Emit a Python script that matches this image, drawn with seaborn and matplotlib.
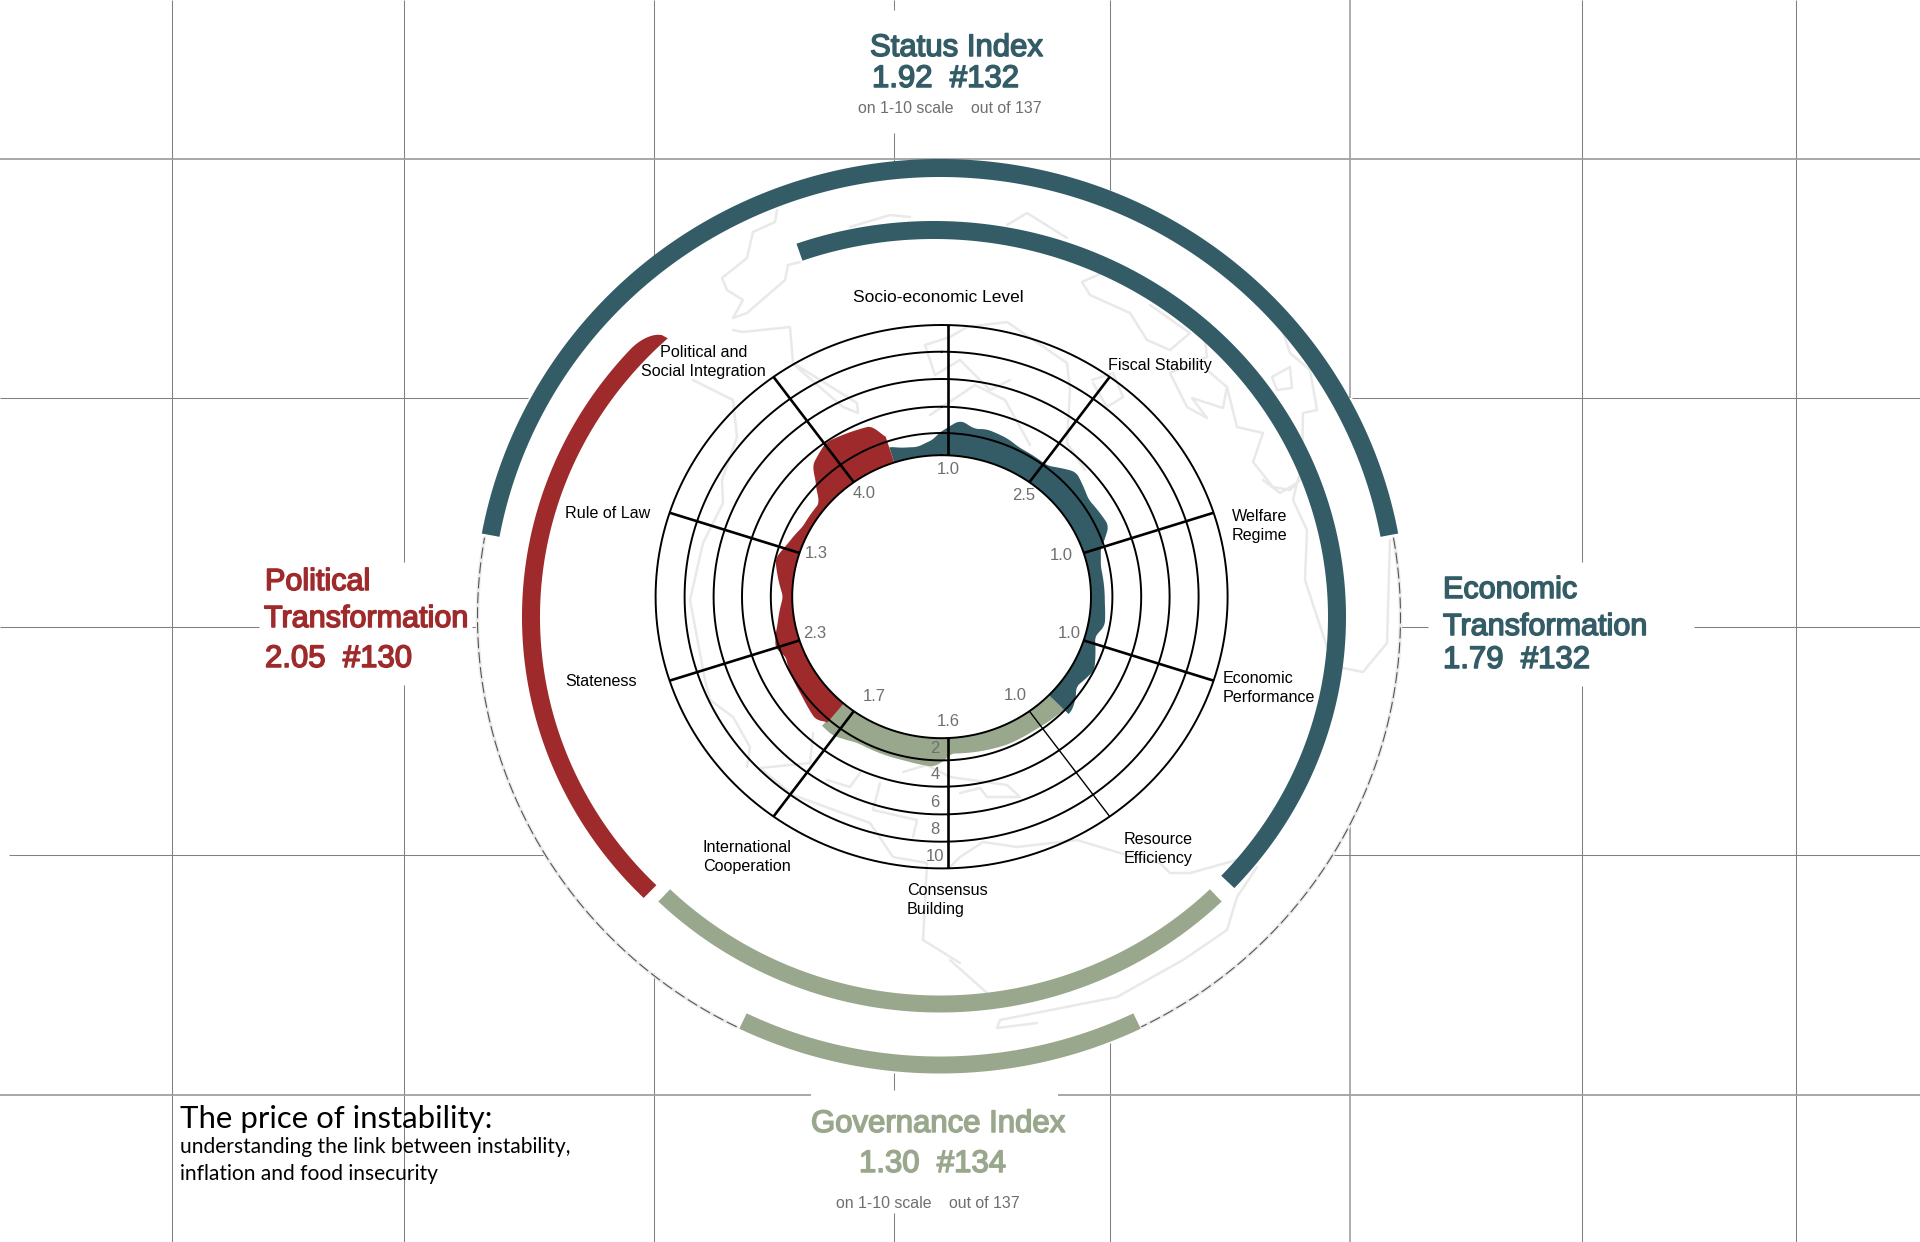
import numpy as np
import pandas as pd
import matplotlib
matplotlib.use('Agg')
import matplotlib.pyplot as plt
import matplotlib.patheffects as pe
import seaborn as sns

# colours
TEAL = '#335c67'
RED = '#9e2a2b'
GREEN = '#99a88c'
GRID = '#808080'
MAP = '#e9e9e9'
LABEL = '#6f6f6f'

# radar scale: value -> ellipse radius in pixels
ring_values = [1, 2, 4, 6, 8, 10]
ring_rx = [149.4, 170.8, 199.6, 228, 257, 286]
ring_ry = [141.5, 163.7, 190, 217.7, 245, 271.7]
CX, CY = 941.6, 596.7
SPOKE_SHIFT = 6.3  # the vertical spoke sits a little right of the ring centre

spoke_angles = [0, 36, 72, 108, 144, 180, 216, 252, 288, 324]
spoke_widths = [1.9, 1.9, 1.9, 1.9, 1.0, 1.9, 1.9, 1.9, 1.9, 1.9]
tick_values = [2, 4, 6, 8, 10]

# outline of the three blobs (angle clockwise from top, value)
econ_angles = [-18.5, -14.5, -8.7, -2.7, 2.1, 5.8, 10.6, 14.4, 21.6, 26.5, 37.8, 45.8, 55.3, 66, 72.1, 78.6, 92.4, 100.5, 105.3, 116.7, 125, 132.5, 134]
econ_values = [1.74, 1.55, 1.44, 1.72, 2.44, 3.04, 2.52, 2.70, 2.50, 2.22, 2.14, 3.16, 2.54, 2.84, 1.82, 1.60, 1.65, 1.77, 1.44, 2.0, 1.69, 2.4, 2.4]
gov_angles = [133, 135.8, 145.9, 157, 177, 182.5, 192, 209, 217, 221.5]
gov_values = [2.0, 1.94, 1.85, 1.86, 1.7, 2.5, 2.3, 2.24, 2.74, 2.66]
pol_angles = [221, 224.2, 233.3, 248.6, 252.1, 259.6, 270, 283.4, 289.6, 298, 309, 314, 316.5, 324.5, 339, 341.6]
pol_values = [2.16, 2.64, 2.22, 1.86, 2.26, 1.82, 1.42, 2.0, 1.67, 1.36, 1.35, 2.24, 3.2, 3.96, 3.48, 2.1]

dim_names = ['Socio-economic Level', 'Fiscal Stability', 'Welfare\nRegime', 'Economic\nPerformance',
             'Resource\nEfficiency', 'Consensus\nBuilding', 'International\nCooperation', 'Stateness',
             'Rule of Law', 'Political and\nSocial Integration']
dim_scores = ['1.0', '2.5', '1.0', '1.0', '1.0', '1.6', '1.7', '2.3', '1.3', '4.0']

# background grid
grid_x = [171.5, 404, 653.7, 894, 1110, 1350, 1582, 1796]
grid_y = [159, 398, 627, 855, 1095]

# faint world map outlines, picture pixels
map_lines = [
    [(777, 210), (775, 222), (753, 232), (747, 258), (722, 278), (727, 290), (743, 300), (733, 318), (747, 313), (785, 280), (788, 265), (800, 262)],
    [(850, 227), (890, 215), (910, 217)],
    [(733, 330), (743, 332), (790, 327), (793, 363), (857, 403), (858, 413), (843, 407), (800, 370), (793, 363)],
    [(693, 380), (733, 400), (737, 437), (722, 480), (723, 503), (703, 543), (690, 600), (705, 680), (710, 700), (733, 717), (750, 747), (747, 767)],
    [(1007, 225), (1027, 213), (1067, 238)],
    [(1102, 273), (1082, 282), (1090, 295), (1130, 313), (1147, 340), (1170, 350), (1190, 333), (1150, 305)],
    [(1205, 340), (1207, 357), (1170, 373), (1187, 407), (1207, 418), (1192, 398), (1223, 408), (1227, 387), (1207, 370)],
    [(1227, 387), (1237, 427), (1263, 433), (1253, 462), (1273, 487), (1290, 490), (1300, 480)],
    [(1283, 332), (1290, 353), (1310, 370), (1317, 410), (1303, 413), (1302, 467), (1297, 483)],
    [(1272, 377), (1290, 367), (1292, 388), (1277, 390), (1272, 377)],
    [(950, 337), (967, 327), (1007, 322), (1067, 363), (1070, 390), (1067, 443), (1085, 470)],
    [(1092, 380), (1113, 373), (1123, 397), (1107, 407), (1093, 383)],
    [(1263, 480), (1280, 493), (1297, 483), (1293, 500), (1307, 530), (1305, 580), (1327, 647), (1343, 668), (1363, 672), (1387, 643), (1390, 540)],
    [(1237, 860), (1190, 873), (1170, 873), (1160, 863), (1120, 853), (1077, 840), (1017, 847), (983, 842), (960, 857), (950, 867)],
    [(1257, 867), (1237, 897), (1227, 930), (1183, 960), (1117, 997), (1000, 1020), (997, 1028), (1037, 1023)],
    [(950, 960), (987, 993)],
    [(950, 777), (1007, 785), (1020, 797), (987, 797), (980, 788), (960, 793)],
    [(793, 795), (870, 823), (893, 857), (927, 863), (923, 940), (960, 963)],
    [(813, 733), (810, 763), (760, 768), (793, 795)],
    [(903, 772), (927, 765), (950, 777)],
    [(860, 773), (850, 787), (827, 780)],
    [(880, 783), (873, 810), (917, 820), (913, 837)],
    [(950, 337), (925, 345), (935, 375), (960, 360), (990, 390), (1010, 380)],
    [(930, 415), (975, 385), (1005, 400), (1030, 445)],
]


def ell(t, rx, ry, cx=CX, cy=CY):
    t = np.radians(t)
    return cx + rx * np.sin(t), cy - ry * np.cos(t)


def radii(v):
    return np.interp(v, ring_values, ring_rx), np.interp(v, ring_values, ring_ry)


def draw_lines(ax, lines, color, lw, zorder, **kw):
    rows = [(i, x, y) for i, line in enumerate(lines) for x, y in zip(*line)]
    df = pd.DataFrame(rows, columns=['line', 'x', 'y'])
    sns.lineplot(data=df, x='x', y='y', units='line', estimator=None, sort=False,
                 color=color, lw=lw, zorder=zorder, legend=False, ax=ax, **kw)


def band(ax, cx, cy, rx, ry, t0, t1, width, color, tip=0):
    # thick elliptical arc, tip = degrees over which the start narrows on its outer side
    t = np.linspace(t0, t1, 300)
    outer = np.full_like(t, width / 2.0)
    if tip:
        k = np.clip(np.abs(t - t0) / tip, 0, 1)
        outer = width * (np.sqrt(k * (2 - k)) - 0.5)
    xo, yo = ell(t, rx + outer, ry + outer, cx, cy)
    xi, yi = ell(t, rx - width / 2.0, ry - width / 2.0, cx, cy)
    ax.fill(np.r_[xo, xi[::-1]], np.r_[yo, yi[::-1]], color=color, lw=0, zorder=4)


def blob(ax, angles, values, color, zorder):
    t = np.arange(angles[0], angles[-1] + 0.25, 0.5)
    v = np.interp(t, angles, values)
    k = 7
    v = np.convolve(np.pad(v, k // 2, mode='edge'), np.ones(k) / k, mode='valid')
    rx, ry = radii(v)
    x, y = ell(t, rx, ry)
    xi, yi = ell(t, ring_rx[0], ring_ry[0])
    ax.fill(np.r_[x, xi[::-1]], np.r_[y, yi[::-1]], color=color, lw=0, zorder=zorder)


sns.set_theme(style='white')
plt.rcParams['font.family'] = ['Liberation Sans', 'DejaVu Sans']

fig = plt.figure(figsize=(19.2, 12.42), dpi=100)
ax = fig.add_axes([0, 0, 1, 1])
ax.set_xlim(0, 1920)
ax.set_ylim(1242, 0)
ax.axis('off')

# grid, with the gaps left for the disc and the headings
v_spans = [[(0, 1242)], [(0, 562), (685, 1242)], [(0, 256), (973, 1242)],
           [(0, 10), (133, 162), (1073, 1090), (1213, 1242)], [(0, 190), (1043, 1242)],
           [(0, 398), (825, 1242)], [(0, 562), (686, 1242)], [(0, 1242)]]
h_spans = [[(0, 1920)], [(0, 528), (1352, 1920)], [(0, 259), (472, 477), (1399, 1428), (1694, 1920)],
           [(9, 545), (1333, 1920)], [(0, 811), (1058, 1920)]]
for x, spans in zip(grid_x, v_spans):
    light = x == 1350
    ax.vlines([x] * len(spans), [s[0] for s in spans], [s[1] for s in spans],
              color='#a6a6a6' if light else GRID, lw=1.3 if light else 0.75, zorder=1)
for y, spans in zip(grid_y, h_spans):
    thick = y in (159, 1095)
    ax.hlines([y] * len(spans), [s[0] for s in spans], [s[1] for s in spans],
              color='#a0a0a0' if thick else GRID, lw=1.3 if thick else 0.75, zorder=1)

draw_lines(ax, [tuple(zip(*m)) for m in map_lines], MAP, 1.8, 2)

# dashed ellipse
for t0, t1 in [(80, 154), (206, 280)]:
    t = np.linspace(t0, t1, 200)
    x, y = ell(t, 461.5, 456, 939, 617)
    ax.plot(x, y, color='#ececec', lw=2.6, zorder=2)
    ax.plot(x, y, color='#555555', lw=0.8, ls=(0, (10, 3.5)), zorder=3)

# outer and inner arcs
band(ax, 940, 617, 457, 449, -79.5, 79.5, 18, TEAL)
band(ax, 940, 617, 456, 448, 154.4, 205.6, 17, GREEN)
band(ax, 934, 617, 403, 387, -19.5, 133.2, 18, TEAL)
band(ax, 940, 617, 397, 387, 136, 224, 17, GREEN)
band(ax, 934, 617, 403, 387, 317.5, 224.8, 18, RED, tip=5)

# blobs
blob(ax, gov_angles, gov_values, GREEN, 5)
blob(ax, econ_angles, econ_values, TEAL, 5)
blob(ax, pol_angles, pol_values, RED, 6)

# rings and spokes
theta = np.linspace(0, 360, 721)
draw_lines(ax, [ell(theta, rx, ry) for rx, ry in zip(ring_rx, ring_ry)], 'black', 1.4, 7)
for a, w in zip(spoke_angles, spoke_widths):
    shift = SPOKE_SHIFT if a % 180 == 0 else 0
    x0, y0 = ell(a, ring_rx[0], ring_ry[0])
    x1, y1 = ell(a, ring_rx[-1], ring_ry[-1])
    ax.plot([x0 + shift, x1 + shift], [y0, y1], color='black', lw=w, zorder=8, solid_capstyle='butt')

# scale ticks under the bottom spoke
for v in tick_values:
    _, ry = radii(v)
    ax.text(935, CY + ry - 12, str(v), fontsize=12, color=LABEL, ha='center', va='center', zorder=9)

# dimension names
name_pos = [(853, 302, 'left'), (1108, 370, 'left'), (1232, 521, 'left'), (1223, 683, 'left'), (1124, 844, 'left'),
            (907, 895, 'left'), (703, 852, 'left'), (565, 686, 'left'), (565, 518, 'left'), (703.7, 357, 'center')]
for name, (x, y, ha) in zip(dim_names, name_pos):
    size = 12.5 if name.startswith('Socio') else 11.6
    for i, line in enumerate(name.split('\n')):
        ax.text(x, y + i * 19, line, fontsize=size, color='black', ha=ha, va='baseline', zorder=9)

# scores inside the inner ring
score_pos = [(948, 469), (1024, 495), (1061, 555), (1069, 634), (1015.5, 696),
             (948, 722), (874, 696.6), (815, 634), (816, 553), (864, 494)]
for s, (x, y) in zip(dim_scores, score_pos):
    ax.text(x, y, s, fontsize=12, color=LABEL, ha='center', va='center', zorder=9)


def heading(x, y, s, color, size=22):
    ax.text(x, y, s, color=color, fontsize=size, va='baseline', zorder=9,
            path_effects=[pe.withStroke(linewidth=1.1, foreground=color)])


# headings
SMALL = dict(fontsize=11.4, color=LABEL, va='baseline', zorder=9)
heading(870, 56, 'Status Index', TEAL, 22.4)
heading(872, 87, '1.92  #132', TEAL, 22.4)
ax.text(858, 113, 'on 1-10 scale    out of 137', **SMALL)
heading(1443, 598, 'Economic', TEAL)
heading(1443, 635, 'Transformation', TEAL)
heading(1443, 668, '1.79  #132', TEAL, 22.4)
heading(265, 590, 'Political', RED)
heading(264, 627, 'Transformation', RED)
heading(265, 667, '2.05  #130', RED, 22.4)
heading(811, 1132, 'Governance Index', GREEN, 22.4)
heading(859, 1172, '1.30  #134', GREEN, 22.4)
ax.text(836, 1208, 'on 1-10 scale    out of 137', **SMALL)

# title
ax.text(180, 1128, 'The price of instability:', family=['Lato', 'DejaVu Sans'], fontsize=22.4, color='black', zorder=9)
ax.text(180, 1153, 'understanding the link between instability,', family=['Lato', 'DejaVu Sans'], fontsize=15.1, color='black', zorder=9)
ax.text(180, 1180, 'inflation and food insecurity', family=['Lato', 'DejaVu Sans'], fontsize=15.1, color='black', zorder=9)

fig.savefig('out.png', dpi=100, facecolor='white')
